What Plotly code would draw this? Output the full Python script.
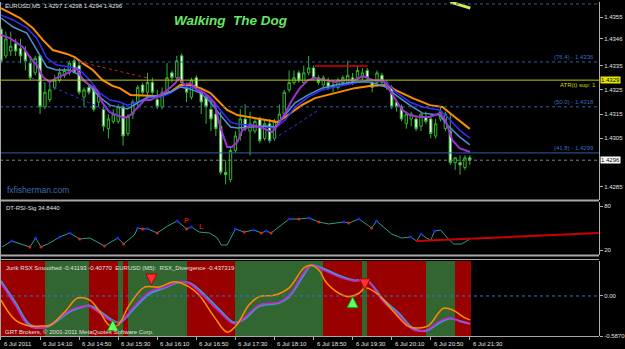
import plotly.graph_objects as go

# ---------------- DATA ----------------
bars = list(range(97))
opens = [1.4350,1.4339,1.4341,1.4344,1.4342,1.4341,1.4336,1.4332,1.4339,1.4318,
         1.4321,1.4326,1.4329,1.4331,1.4332,1.4337,1.4335,1.4322,1.4326,1.4326,
         1.4320,1.4317,1.4309,1.4312,1.4312,1.4318,1.4307,1.4315,1.4320,1.4327,
         1.4324,1.4328,1.4321,1.4318,1.4324,1.4332,1.4330,1.4339,1.4326,1.4322,
         1.4330,1.4324,1.4322,1.4317,1.4315,1.4310,1.4291,1.4288,1.4300,1.4306,
         1.4313,1.4308,1.4308,1.4313,1.4305,1.4311,1.4305,1.4312,1.4315,1.4325,
         1.4328,1.4332,1.4328,1.4332,1.4334,1.4330,1.4327,1.4328,1.4327,1.4326,
         1.4328,1.4328,1.4330,1.4330,1.4330,1.4333,1.4328,1.4328,1.4331,1.4327,
         1.4326,1.4320,1.4318,1.4311,1.4313,1.4313,1.4310,1.4314,1.4313,1.4306,
         1.4313,1.4309,1.4308,1.4295,1.4295,1.4293,1.4297]
highs = [1.4351,1.4349,1.4349,1.4346,1.4346,1.4343,1.4339,1.4339,1.4339,1.4328,
         1.4328,1.4331,1.4334,1.4334,1.4337,1.4338,1.4337,1.4326,1.4327,1.4327,
         1.4324,1.4318,1.4315,1.4317,1.4319,1.4319,1.4315,1.4321,1.4327,1.4328,
         1.4332,1.4330,1.4325,1.4326,1.4336,1.4333,1.4339,1.4340,1.4328,1.4330,
         1.4331,1.4326,1.4323,1.4321,1.4318,1.4316,1.4296,1.4301,1.4308,1.4317,
         1.4319,1.4316,1.4313,1.4314,1.4313,1.4313,1.4313,1.4319,1.4325,1.4333,
         1.4333,1.4333,1.4335,1.4339,1.4335,1.4331,1.4331,1.4330,1.4329,1.4330,
         1.4331,1.4337,1.4332,1.4335,1.4334,1.4334,1.4329,1.4333,1.4332,1.4329,
         1.4327,1.4321,1.4319,1.4316,1.4316,1.4314,1.4315,1.4316,1.4315,1.4313,
         1.4318,1.4316,1.4315,1.4297,1.4298,1.4298,1.4298]
lows = [1.4336,1.4338,1.4339,1.4339,1.4336,1.4333,1.4329,1.4331,1.4315,1.4317,
        1.4320,1.4325,1.4328,1.4330,1.4331,1.4332,1.4323,1.4318,1.4323,1.4316,
        1.4318,1.4308,1.4305,1.4311,1.4311,1.4302,1.4306,1.4313,1.4318,1.4323,
        1.4322,1.4323,1.4317,1.4317,1.4323,1.4328,1.4329,1.4326,1.4320,1.4321,
        1.4325,1.4315,1.4311,1.4308,1.4306,1.4290,1.4286,1.4287,1.4299,1.4304,
        1.4308,1.4298,1.4307,1.4303,1.4304,1.4303,1.4304,1.4311,1.4314,1.4324,
        1.4327,1.4328,1.4327,1.4331,1.4329,1.4327,1.4325,1.4325,1.4324,1.4325,
        1.4327,1.4327,1.4327,1.4329,1.4329,1.4329,1.4324,1.4327,1.4327,1.4325,
        1.4317,1.4316,1.4312,1.4309,1.4310,1.4308,1.4308,1.4311,1.4305,1.4305,
        1.4312,1.4308,1.4294,1.4292,1.4290,1.4292,1.4294]
closes = [1.4337,1.4346,1.4343,1.4341,1.4339,1.4337,1.4330,1.4338,1.4318,1.4324,
          1.4325,1.4329,1.4332,1.4333,1.4336,1.4332,1.4324,1.4325,1.4324,1.4317,
          1.4323,1.4310,1.4313,1.4315,1.4318,1.4306,1.4314,1.4320,1.4326,1.4324,
          1.4328,1.4324,1.4318,1.4324,1.4330,1.4330,1.4337,1.4328,1.4324,1.4329,
          1.4326,1.4320,1.4318,1.4313,1.4309,1.4291,1.4290,1.4300,1.4306,1.4313,
          1.4309,1.4311,1.4312,1.4304,1.4311,1.4304,1.4312,1.4315,1.4324,1.4328,
          1.4330,1.4329,1.4332,1.4334,1.4330,1.4328,1.4330,1.4326,1.4326,1.4329,
          1.4330,1.4331,1.4328,1.4333,1.4332,1.4330,1.4326,1.4332,1.4328,1.4328,
          1.4318,1.4318,1.4313,1.4315,1.4315,1.4309,1.4315,1.4312,1.4307,1.4311,
          1.4316,1.4315,1.4295,1.4297,1.4294,1.4297,1.4296]

# moving averages (sampled along the chart)
ma_orange_x = [0,3.9,6.5,8.6,10.6,13.5,15.1,16.7,18.8,20.8,22.9,24.3,26.5,30.6,32.7,34.7,36.7,38.8,40.8,
               42.9,44.3,46.3,48.4,52.0,56.7,58.2,61.6,64.3,68.4,72.4,75.5,78.8,80.8,84.3,87.8,90.4,92.4,94.5,96]
ma_orange_y = [1.43587,1.43546,1.43505,1.43455,1.43414,1.43398,1.43385,1.43360,1.43332,1.43290,1.43266,
               1.43257,1.43229,1.43224,1.43224,1.43241,1.43270,1.43270,1.43257,1.43237,1.43208,1.43167,
               1.43146,1.43134,1.43117,1.43138,1.43187,1.43216,1.43237,1.43257,1.43266,1.43270,1.43249,
               1.43216,1.43187,1.43179,1.43146,1.43113,1.43089]
ma_x = [0,2.5,5.3,7.3,9.4,11.4,14.1,16.1,18.2,20.2,22.3,24.3,25.9,28,30,32.7,34.7,36.7,38.8,40.8,42.9,44.9,
        47,48.4,50.6,54.1,56.1,58.2,60.2,62.9,65.7,68.4,72.4,75.5,78.8,80.8,83.7,86.3,89.8,91.4,93.9,96]
ma_blue_y = [1.43558,1.43538,1.43505,1.43463,1.43381,1.43352,1.43344,1.43332,1.43290,1.43237,1.43208,
             1.43200,1.43187,1.43200,1.43216,1.43220,1.43237,1.43262,1.43262,1.43249,1.43220,1.43167,
             1.43117,1.43109,1.43105,1.43097,1.43093,1.43126,1.43179,1.43220,1.43249,1.43262,1.43278,
             1.43290,1.43282,1.43241,1.43200,1.43179,1.43167,1.43138,1.43084,1.43051]
ma_steel_y = [1.43546,1.43509,1.43484,1.43414,1.43344,1.43332,1.43332,1.43311,1.43262,1.43220,1.43187,
              1.43179,1.43171,1.43196,1.43220,1.43229,1.43241,1.43262,1.43253,1.43237,1.43200,1.43146,
              1.43097,1.43093,1.43097,1.43101,1.43097,1.43146,1.43196,1.43229,1.43257,1.43270,1.43282,
              1.43282,1.43262,1.43229,1.43187,1.43154,1.43146,1.43105,1.43056,1.43023]
ma_purple_x = [0,1.8,3.3,4.5,5.9,7.3,8.6,10,11.4,12.7,14.1,15.5,16.7,18.2,19.6,20.8,22.2,23.7,25.3,26.5,28,
               29.4,30.6,32.7,34.1,35.7,36.5,37.6,38.8,40.2,41.6,43.7,44.9,46.3,47.3,48.4,49.4,51.4,53.5,
               55.5,56.7,58.2,59.6,61.2,62.9,64.3,66.3,68.4,70.4,72.4,74.1,76.1,78.2,79.6,80.8,82.2,83.7,
               85.7,87.8,89.8,91,92.4,93.9,96]
ma_purple_y = [1.43476,1.43463,1.43443,1.43426,1.43385,1.43352,1.43303,1.43282,1.43299,1.43311,1.43323,
               1.43340,1.43290,1.43270,1.43249,1.43196,1.43159,1.43146,1.43134,1.43146,1.43179,1.43208,
               1.43208,1.43229,1.43249,1.43278,1.43299,1.43270,1.43278,1.43249,1.43237,1.43196,1.43097,
               1.43014,1.43014,1.43035,1.43084,1.43105,1.43093,1.43076,1.43105,1.43154,1.43208,1.43257,
               1.43290,1.43299,1.43290,1.43282,1.43290,1.43290,1.43307,1.43290,1.43290,1.43249,1.43208,
               1.43167,1.43146,1.43138,1.43138,1.43154,1.43126,1.43043,1.43010,1.42994]

fib_prices = [1.43604, 1.43365, 1.43180, 1.42990]
fib_texts = ["", "(76.4) - 1.4336", "(50.0) - 1.4318", "(41.8) - 1.4299"]
atr_support = 1.4329
last_price = 1.4296
price_ticks = [1.4355, 1.4346, 1.4335, 1.4325, 1.4315, 1.4305, 1.4285]

red_trend_x, red_trend_y = [16.1, 30.0], [1.43365, 1.43299]
blue_trend_x, blue_trend_y = [6.3, 23.9], [1.43299, 1.43146]
blue_trend2_x, blue_trend2_y = [54.9, 65.1], [1.43035, 1.43167]
red_level_x, red_level_y = [64.3, 75.1], [1.43348, 1.43348]
top_line_x, top_line_y = [92.0, 96.1], [1.43612, 1.43587]

# DT-RSI-Sig
rsi_x = [0.2,2.2,5.9,7.1,8.2,10,12,14.1,16.1,18.2,21.2,23.9,25.1,27.3,28,29,30,32,34.1,36.1,38,39,40.6,42.7,
         44.3,45.1,46.3,48,49.8,51.8,53.3,54.3,55.3,56.9,59,61,63.1,65.1,67.1,70.2,71.2,73.3,75.9,76.9,78.4,
         80,82,83.9,85.1,86,87.1,88,88.8,90,91.6,92.7,94.3,96]
rsi_v = [24.1,32.3,24.1,36.4,24.1,29.5,37.7,43.2,35.0,36.4,25.5,36.4,28.2,40.5,50.0,48.6,49.0,43.2,52.7,59.5,
         48.6,51.4,44.5,43.2,36.4,26.8,26.8,48.6,44.5,47.3,43.2,45.9,43.2,51.4,62.3,62.3,63.6,58.2,55.5,58.2,
         56.8,62.3,50.0,59.5,51.4,41.8,36.4,37.7,32.3,41.8,36.4,33.6,45.9,47.3,35.0,28.2,28.2,34.8]
rsi_kind = ["","b","r","b","r","","b","b","r","","r","b","r","","b","r","b","r","","b","r","b","","",
            "","","","b","r","b","r","b","r","","b","r","b","r","","b","r","b","r","b","",
            "","","b","","b","","","b","","","","",""]
rsi_trend_x, rsi_trend_v = [85.0, 122.4], [32.3, 43.2]
rsi_letters = [("P", 37.9, 60.9), ("L", 41.0, 51.4)]

# Jurik RSX
rsx_x = [0,2.9,5.9,9.2,12,14.1,16.7,18,20.2,22.7,24.3,27.3,30.4,33.5,36.5,38.6,40.6,44.7,47.8,49.8,52.9,57,
         59,62,63.5,66,69.2,72.2,74.9,78.4,81.4,84.5,87.1,89.6,92,94.1,96]
rsx_magenta = [0.19,-0.13,-0.45,-0.45,-0.32,-0.21,-0.15,-0.15,-0.25,-0.37,-0.38,-0.15,0.06,0.13,0.21,0.18,
               0.06,-0.23,-0.41,-0.32,-0.13,-0.09,0.01,0.34,0.45,0.38,0.28,0.22,0.22,-0.09,-0.28,-0.50,
               -0.50,-0.38,-0.32,-0.38,-0.412]
rsx_cyan = [0.22,-0.09,-0.42,-0.46,-0.34,-0.23,-0.16,-0.14,-0.22,-0.35,-0.39,-0.18,0.03,0.12,0.20,0.19,0.09,
            -0.20,-0.39,-0.34,-0.15,-0.10,-0.01,0.31,0.45,0.40,0.30,0.23,0.23,-0.06,-0.25,-0.48,-0.51,-0.40,
            -0.33,-0.37,-0.408]
div_x = [0,2.9,5.9,8,10,13.1,15.7,18.2,20.2,22.2,23.9,26.3,29.4,32.4,35.5,38.6,40.6,43.7,46.3,48.2,50.8,52.9,
         55.9,59,62,63.5,65.1,66.5,69.2,71.2,73.3,74.7,77.4,80.4,83.5,85.5,87.6,90.6,92.6,94.7,96]
div_v = [-0.06,-0.35,-0.44,-0.44,-0.43,-0.23,-0.03,-0.06,-0.23,-0.43,-0.43,-0.13,0.13,0.13,0.21,0.13,0.01,
         -0.31,-0.53,-0.43,-0.13,-0.01,0.01,0.12,0.41,0.45,0.38,0.21,0.04,-0.01,0.04,0.12,0.01,-0.23,-0.45,
         -0.47,-0.43,-0.18,-0.21,-0.31,-0.35]
# trend state segments (start bar, end bar, state)
segments = [(-0.2,9,"dn"),(9,18,"up"),(18,24,"dn"),(24,25,"up"),(25,26,"dn"),(26,38,"up"),(38,48,"dn"),
            (48,66,"up"),(66,74,"dn"),(74,75,"up"),(75,87,"dn"),(87,93,"up"),(93,96.2,"dn")]
up_arrows = [(22.9, -0.35), (72.0, -0.01)]
down_arrows = [(30.8, 0.16), (74.5, 0.09)]
rsx_ticks = [0.51321, 0.0, -0.5870]
rsx_tick_text = ["0.51321", "0.00", "-0.5870"]

time_ticks = [0, 8, 16, 24, 32, 40, 48, 56, 64, 72, 80, 88, 96]
time_labels = ["6 Jul 2011", "6 Jul 14:10", "6 Jul 14:50", "6 Jul 15:30", "6 Jul 16:10", "6 Jul 16:50",
               "6 Jul 17:30", "6 Jul 18:10", "6 Jul 18:50", "6 Jul 19:30", "6 Jul 20:10", "6 Jul 20:50",
               "6 Jul 21:30"]

# ---------------- LAYOUT HELPERS ----------------
W, H = 625, 349
ML, MR, MT, MB = 0, 24, 2, 12
PW, PH = W - ML - MR, H - MT - MB
def fx(px): return px / PW
def fy(py): return (H - MB - py) / PH

FONT = "Liberation Sans"
GRN = "#2fb82f"
TXT = "#e0e0e0"
RSX_LO, RSX_HI = -0.587, 0.513

fig = go.Figure()

# background segments in RSX panel
for state, col in (("up", "#2a5a2a"), ("dn", "#990000")):
    segs = [s for s in segments if s[2] == state]
    fig.add_trace(go.Bar(
        x=[(a + b) / 2 for a, b, _ in segs], width=[b - a for a, b, _ in segs],
        y=[RSX_HI - RSX_LO] * len(segs), base=[RSX_LO] * len(segs),
        xaxis="x", yaxis="y3", hoverinfo="skip", showlegend=False,
        marker=dict(color=col, line=dict(width=0),
                    pattern=dict(shape="." if state == "up" else "", fgcolor="#3f7a3a",
                                 bgcolor=col, size=2, solidity=0.4, fillmode="replace"))))

# main panel
fig.add_trace(go.Candlestick(
    x=bars, open=opens, high=highs, low=lows, close=closes, xaxis="x", yaxis="y",
    increasing=dict(fillcolor="#000000", line=dict(color=GRN, width=1)),
    decreasing=dict(fillcolor="#ffffff", line=dict(color=GRN, width=1)),
    whiskerwidth=0, showlegend=False))
for xs, ys, col, w in ((ma_orange_x, ma_orange_y, "#ff8c00", 2),
                       (ma_x, ma_blue_y, "#3030ff", 1.5),
                       (ma_x, ma_steel_y, "#4f93cf", 1.5),
                       (ma_purple_x, ma_purple_y, "#a030d0", 2)):
    fig.add_trace(go.Scatter(x=xs, y=ys, mode="lines", line=dict(color=col, width=w),
                             xaxis="x", yaxis="y", showlegend=False))
for xs, ys, col, dash, w in ((red_trend_x, red_trend_y, "#cc2222", "dot", 1),
                             (blue_trend_x, blue_trend_y, "#3333ff", "dot", 1),
                             (blue_trend2_x, blue_trend2_y, "#3333ff", "dot", 1),
                             (red_level_x, red_level_y, "#dd0000", "solid", 1.5),
                             (top_line_x, top_line_y, "#ccee55", "solid", 3)):
    fig.add_trace(go.Scatter(x=xs, y=ys, mode="lines", line=dict(color=col, width=w, dash=dash),
                             xaxis="x", yaxis="y", showlegend=False))

# RSI panel
fig.add_trace(go.Scatter(x=rsi_x, y=rsi_v, mode="lines", line=dict(color="#2f9f86", width=1),
                         xaxis="x", yaxis="y2", showlegend=False))
for kind, col in (("b", "#2020ff"), ("r", "#dd2020")):
    fig.add_trace(go.Scatter(x=[x for x, k in zip(rsi_x, rsi_kind) if k == kind],
                             y=[v for v, k in zip(rsi_v, rsi_kind) if k == kind],
                             mode="markers", marker=dict(color=col, size=3),
                             xaxis="x", yaxis="y2", showlegend=False))
fig.add_trace(go.Scatter(x=rsi_trend_x, y=rsi_trend_v, mode="lines", line=dict(color="#cc0000", width=2),
                         xaxis="x", yaxis="y2", showlegend=False))
for t, x, v in rsi_letters:
    fig.add_annotation(x=x, y=v, xref="x", yref="y2", text="<b>%s</b>" % t, showarrow=False,
                       font=dict(family=FONT, size=7, color="#dd1111"))

# RSX panel
fig.add_trace(go.Scatter(x=rsx_x, y=rsx_cyan, mode="lines", line=dict(color="#3a9ad0", width=2, shape="spline"),
                         xaxis="x", yaxis="y3", showlegend=False))
fig.add_trace(go.Scatter(x=rsx_x, y=rsx_magenta, mode="lines", line=dict(color="#d020d0", width=1.5, shape="spline"),
                         xaxis="x", yaxis="y3", showlegend=False))
fig.add_trace(go.Scatter(x=div_x, y=div_v, mode="lines", line=dict(color="#ff8c00", width=1.5, shape="spline"),
                         xaxis="x", yaxis="y3", showlegend=False))
fig.add_trace(go.Scatter(x=[a[0] for a in up_arrows], y=[a[1] for a in up_arrows], mode="markers",
                         marker=dict(symbol="arrow-up", size=11, color="#66ff66", line=dict(color="#00aa00", width=1)),
                         xaxis="x", yaxis="y3", showlegend=False))
fig.add_trace(go.Scatter(x=[a[0] for a in down_arrows], y=[a[1] for a in down_arrows], mode="markers",
                         marker=dict(symbol="arrow-down", size=11, color="#ff3030", line=dict(color="#aa0000", width=1)),
                         xaxis="x", yaxis="y3", showlegend=False))

# ---------------- SHAPES ----------------
shapes = []
for p, t in zip(fib_prices, fib_texts):
    solid = (t.startswith("(41.8)"))
    shapes.append(dict(type="line", xref="paper", yref="y", x0=0, x1=1, y0=p, y1=p,
                       line=dict(color="#2f5fb0", width=1, dash="solid" if solid else "dot")))
    if t:
        fig.add_annotation(x=fx(598), y=p, xref="paper", yref="y", text=t, showarrow=False,
                           xanchor="right", yanchor="bottom", font=dict(family=FONT, size=6, color="#3a6cc0"))
shapes.append(dict(type="line", xref="paper", yref="y", x0=0, x1=1, y0=atr_support, y1=atr_support,
                   line=dict(color="#c8c800", width=1)))
shapes.append(dict(type="line", xref="paper", yref="y", x0=0, x1=1, y0=last_price, y1=last_price,
                   line=dict(color="#808080", width=1, dash="dot")))
shapes.append(dict(type="line", xref="paper", yref="y3", x0=0, x1=1, y0=0, y1=0,
                   line=dict(color="#3a6cd0", width=1, dash="dot")))
for py, w in ((200.5, 2), (255.5, 2), (259.5, 1), (336.5, 1)):
    shapes.append(dict(type="line", xref="paper", yref="paper", x0=0, x1=1, y0=fy(py), y1=fy(py),
                       line=dict(color="#a8a8a8", width=w)))
shapes.append(dict(type="line", xref="paper", yref="paper", x0=fx(0.5), x1=fx(0.5), y0=0, y1=1,
                   line=dict(color="#a8a8a8", width=1)))

# ---------------- TEXT ----------------
small = dict(family=FONT, size=6, color=TXT)
fig.add_annotation(x=fx(3), y=fy(6), xref="paper", yref="paper", xanchor="left", yanchor="middle",
                   text="EURUSD,M5  1.4297 1.4298 1.4294 1.4296", showarrow=False, font=small)
fig.add_annotation(x=fx(232), y=fy(20), xref="paper", yref="paper", xanchor="center", yanchor="middle",
                   text="<b><i>Walking&nbsp; The Dog</i></b>", showarrow=False,
                   font=dict(family=FONT, size=13.5, color="#66e866"))
fig.add_annotation(x=fx(5), y=fy(190), xref="paper", yref="paper", xanchor="left", yanchor="middle",
                   text="fxfisherman.com", showarrow=False, font=dict(family=FONT, size=8.5, color="#3a6eb0"))
fig.add_annotation(x=fx(600), y=atr_support, xref="paper", yref="y", xanchor="right", yanchor="top",
                   text="ATR(t) sup: 1", showarrow=False, font=dict(family=FONT, size=6, color="#d8d800"))
fig.add_annotation(x=fx(4), y=fy(208), xref="paper", yref="paper", xanchor="left", yanchor="middle",
                   text="DT-RSI-Sig 34.8440", showarrow=False, font=small)
fig.add_annotation(x=fx(4), y=fy(268), xref="paper", yref="paper", xanchor="left", yanchor="middle",
                   text="Jurik RSX Smoothed -0.41193 -0.40770  EURUSD (M5):  RSX_Divergence -0.437319",
                   showarrow=False, font=small)
fig.add_annotation(x=fx(3), y=fy(332), xref="paper", yref="paper", xanchor="left", yanchor="middle",
                   text="GRT Brokers, © 2001-2011 MetaQuotes Software Corp.", showarrow=False, font=small)
for p, bg in ((atr_support, "#e8e800"), (last_price, "#ffffff")):
    fig.add_annotation(x=fx(602), y=p, xref="paper", yref="y", xanchor="left", yanchor="middle",
                       text="%.4f" % p, showarrow=False, bgcolor=bg, borderpad=0,
                       font=dict(family=FONT, size=6, color="#000000"))
for b, lab in zip(time_ticks, time_labels):
    fig.add_annotation(x=b, y=fy(344), xref="x", yref="paper", xanchor="left", yanchor="middle",
                       xshift=1, text=lab, showarrow=False, font=small)

axfont = dict(family=FONT, size=6, color=TXT)
yax_common = dict(side="right", showgrid=False, zeroline=False, showline=True, linecolor="#b0b0b0",
                  ticks="outside", ticklen=3, tickcolor="#b0b0b0", tickfont=axfont, anchor="x",
                  fixedrange=True)
fig.update_layout(
    width=W, height=H, margin=dict(l=ML, r=MR, t=MT, b=MB),
    paper_bgcolor="#000000", plot_bgcolor="#000000", showlegend=False, bargap=0,
    xaxis=dict(range=[-0.2, 122.45], showgrid=False, zeroline=False, anchor="y3",
               tickvals=time_ticks, showticklabels=False, ticks="outside", ticklen=3,
               tickcolor="#b0b0b0", rangeslider=dict(visible=False), showline=False),
    yaxis=dict(domain=[fy(200), fy(2)], range=[1.42796, 1.43612], tickvals=price_ticks,
               ticktext=["%.4f" % v for v in price_ticks], **yax_common),
    yaxis2=dict(domain=[fy(255), fy(202)], range=[13.2, 85.45], tickvals=[80, 20],
                ticktext=["80", "20"], **yax_common),
    yaxis3=dict(domain=[fy(336), fy(261)], range=[RSX_LO, RSX_HI], tickvals=rsx_ticks,
                ticktext=rsx_tick_text, **yax_common),
    shapes=shapes,
)
fig.write_html("out.html")
